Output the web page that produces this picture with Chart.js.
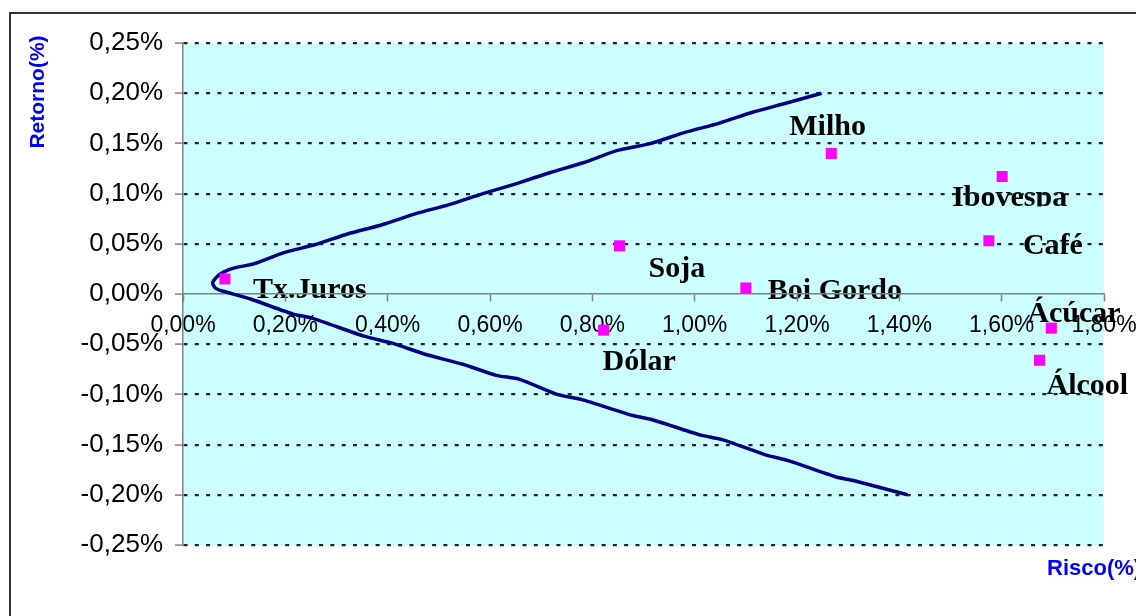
<!DOCTYPE html>
<html>
<head>
<meta charset="utf-8">
<script src="https://cdn.jsdelivr.net/npm/chart.js@4/dist/chart.umd.min.js"></script>
<style>
  html, body { margin: 0; padding: 0; background: #fff; }
  #wrap { width: 1136px; height: 616px; }
</style>
</head>
<body>
<div id="wrap"><canvas id="grafico" width="1136" height="616"></canvas></div>
<script>
// --- DADOS ---
const xTickValues = [0, 0.2, 0.4, 0.6, 0.8, 1.0, 1.2, 1.4, 1.6, 1.8];
const yTickValues = [-0.25, -0.2, -0.15, -0.1, -0.05, 0, 0.05, 0.1, 0.15, 0.2, 0.25];

// fronteira eficiente (risco %, retorno %)
const frontierRisk = [1.248, 1.178, 1.113, 1.047, 0.981, 0.915, 0.849, 0.784, 0.718, 0.652,
  0.586, 0.520, 0.455, 0.389, 0.323, 0.257, 0.196, 0.138, 0.101, 0.080, 0.066, 0.058,
  0.063, 0.077, 0.132, 0.215, 0.252, 0.354, 0.409, 0.473, 0.547, 0.612, 0.658, 0.731,
  0.778, 0.879, 0.916, 1.008, 1.054, 1.137, 1.183, 1.275, 1.312, 1.416];
const frontierReturn = [0.200, 0.190, 0.181, 0.170, 0.161, 0.150, 0.143, 0.131, 0.121, 0.110,
  0.100, 0.089, 0.080, 0.069, 0.060, 0.049, 0.041, 0.030, 0.026, 0.022, 0.017, 0.011,
  0.006, 0.003, -0.005, -0.020, -0.024, -0.042, -0.049, -0.060, -0.070, -0.081, -0.085, -0.100,
  -0.105, -0.121, -0.125, -0.140, -0.145, -0.160, -0.166, -0.182, -0.186, -0.200];

// ativos
const assetNames = ["Tx.Juros", "Soja", "Dólar", "Boi Gordo", "Milho", "Ibovespa", "Café", "Ácúcar", "Álcool"];
const assetRisk = [0.082, 0.853, 0.822, 1.100, 1.267, 1.601, 1.575, 1.697, 1.674];
const assetReturn = [0.015, 0.048, -0.036, 0.006, 0.140, 0.117, 0.053, -0.034, -0.066];

// --- posição dos rótulos (px relativos ao ponto) ---
const labelOffsets = [
  { dx: 28, dy: 19, clip: true },
  { dx: 29, dy: 31 },
  { dx: -1, dy: 40 },
  { dx: 22, dy: 11, clip: true },
  { dx: -42, dy: -18 },
  { dx: -50, dy: 29, clip: true },
  { dx: 34, dy: 13 },
  { dx: -24, dy: -6 },
  { dx: 7, dy: 34 }
];

const fmtPct = v => v.toFixed(2).replace(".", ",") + "%";

// --- fundo, moldura, rótulos e títulos ---
const fundoPlugin = {
  id: "fundo",
  beforeDraw(chart) {
    const { ctx, chartArea: a, scales } = chart;
    ctx.save();
    ctx.fillStyle = "#fff";
    ctx.fillRect(0, 0, chart.width, chart.height);

    ctx.strokeStyle = "#333";
    ctx.lineWidth = 2;
    ctx.strokeRect(10, 13, 1400, 800);

    ctx.fillStyle = "#CCFFFF";
    ctx.fillRect(a.left, a.top, a.right - a.left, a.bottom - a.top);

    // rótulos dos ativos
    ctx.font = "bold 30px 'Liberation Serif', 'Times New Roman', serif";
    ctx.fillStyle = "#000";
    ctx.textAlign = "left";
    ctx.textBaseline = "alphabetic";
    assetNames.forEach((nome, i) => {
      const px = scales.x.getPixelForValue(assetRisk[i]);
      const py = scales.y.getPixelForValue(assetReturn[i]);
      const o = labelOffsets[i];
      const lx = px + o.dx, ly = py + o.dy;
      ctx.save();
      if (o.clip) {
        ctx.beginPath();
        ctx.rect(lx - 5, ly - 40, 300, 41);
        ctx.clip();
      }
      ctx.fillText(nome, lx, ly);
      ctx.restore();
    });

    // títulos dos eixos
    ctx.fillStyle = "#0000FF";
    ctx.font = "bold 21px 'Liberation Sans', Arial, sans-serif";
    ctx.save();
    ctx.translate(44, 92);
    ctx.rotate(-Math.PI / 2);
    ctx.textAlign = "center";
    ctx.fillText("Retorno(%)", 0, 0);
    ctx.restore();

    ctx.font = "bold 22px 'Liberation Sans', Arial, sans-serif";
    ctx.textAlign = "left";
    ctx.fillText("Risco(%)", 1047, 575);
    ctx.restore();
  }
};

const ctx = document.getElementById("grafico").getContext("2d");

new Chart(ctx, {
  type: "scatter",
  data: {
    datasets: [
      {
        label: "Ativos",
        data: assetRisk.map((r, i) => ({ x: r, y: assetReturn[i] })),
        pointStyle: "rect",
        pointRadius: 7.8,
        backgroundColor: "#FF00FF",
        borderColor: "#FF00FF",
        borderWidth: 0,
        showLine: false
      },
      {
        label: "Fronteira",
        data: frontierRisk.map((r, i) => ({ x: r, y: frontierReturn[i] })),
        showLine: true,
        borderColor: "#000080",
        borderWidth: 3.5,
        pointRadius: 0,
        tension: 0.2,
        fill: false
      }
    ]
  },
  options: {
    responsive: false,
    animation: false,
    events: [],
    layout: { padding: { left: 0, right: 32, top: 43, bottom: 71 } },
    plugins: { legend: { display: false }, tooltip: { enabled: false } },
    scales: {
      x: {
        type: "linear",
        position: { y: 0 },
        min: 0,
        max: 1.8,
        afterBuildTicks: s => { s.ticks = xTickValues.map(v => ({ value: v })); },
        afterFit: s => { s.paddingLeft = 0; s.paddingRight = 0; },
        grid: { drawOnChartArea: false, drawTicks: true, tickLength: 7, tickColor: "#808080", tickWidth: 1.5 },
        border: { display: true, color: "#808080", width: 1.5 },
        ticks: {
          color: "#000",
          padding: 11,
          maxRotation: 0,
          autoSkip: false,
          font: { family: "'Liberation Sans', Arial, sans-serif", size: 23 },
          callback: v => fmtPct(v)
        }
      },
      y: {
        type: "linear",
        position: "left",
        min: -0.25,
        max: 0.25,
        afterBuildTicks: s => { s.ticks = yTickValues.map(v => ({ value: v })); },
        afterFit: s => { s.width = 183; },
        grid: {
          color: c => (Math.abs(c.tick.value) < 1e-9 ? "rgba(0,0,0,0)" : "#222"),
          lineWidth: 2.2,
          drawTicks: true,
          tickLength: 8,
          tickColor: "#808080",
          tickWidth: 1.5
        },
        border: { display: true, color: "#808080", width: 1.5, dash: [4, 7.3] },
        ticks: {
          color: "#000",
          padding: 12,
          autoSkip: false,
          font: { family: "'Liberation Sans', Arial, sans-serif", size: 26 },
          callback: v => fmtPct(v)
        }
      }
    }
  },
  plugins: [fundoPlugin]
});
</script>
</body>
</html>
